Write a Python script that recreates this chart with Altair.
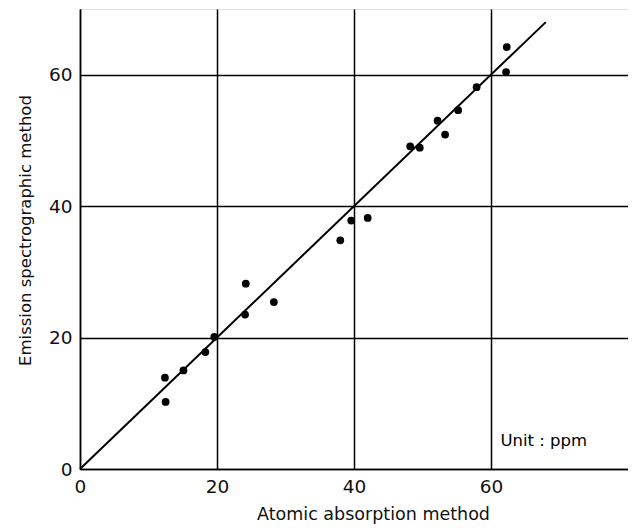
import altair as alt
import pandas as pd

# Data
aa_method = [62.3, 62.2, 57.9, 55.2, 52.2, 53.3, 48.2, 49.6, 42.0, 39.6, 38.0,
             24.2, 28.3, 24.1, 19.6, 18.3, 15.1, 12.4, 12.5]
es_method = [64.2, 60.4, 58.1, 54.6, 53.0, 50.9, 49.1, 48.9, 38.2, 37.8, 34.8,
             28.2, 25.4, 23.5, 20.1, 17.8, 15.0, 13.9, 10.2]
line_x = [0, 68]
line_y = [0, 68]
tick_values = [0, 20, 40, 60]

pts = pd.DataFrame({"x": aa_method, "y": es_method})
ln = pd.DataFrame({"x": line_x, "y": line_y})
note = pd.DataFrame({"x": [67.7], "y": [4.2], "t": ["Unit : ppm"]})

FONT = "DejaVu Sans"

xscale = alt.Scale(domain=[0, 80], nice=False, zero=True)
yscale = alt.Scale(domain=[0, 70], nice=False, zero=True)

xaxis = alt.Axis(
    title="Atomic absorption method", values=tick_values, grid=True,
    gridColor="black", gridWidth=1.5, gridOpacity=1, ticks=False,
    domainColor="black", domainWidth=1.5,
    labelFont=FONT, labelFontSize=18.5, labelColor="#111", labelPadding=8,
    labelFlush=False,
    titleFont=FONT, titleFontSize=17.5, titleFontWeight="normal", titleColor="#111",
    titleX=293, titleY=45, titleBaseline="middle", titleAnchor="middle", titleAlign="center",
)
yaxis = alt.Axis(
    title="Emission spectrographic method", values=tick_values, grid=True,
    gridColor="black", gridWidth=1.5, gridOpacity=1, ticks=False,
    domainColor="black", domainWidth=1.5,
    labelFont=FONT, labelFontSize=18.5, labelColor="#111", labelPadding=8,
    labelFlush=False,
    titleFont=FONT, titleFontSize=16.5, titleFontWeight="normal", titleColor="#111",
    titleX=-55, titleY=221, titleBaseline="middle", titleAnchor="middle", titleAlign="center",
)

base_x = alt.X("x:Q", scale=xscale, axis=xaxis)
base_y = alt.Y("y:Q", scale=yscale, axis=yaxis)

line = alt.Chart(ln).mark_line(color="black", strokeWidth=2).encode(x=base_x, y=base_y)
points = alt.Chart(pts).mark_circle(color="black", opacity=1, size=60).encode(x=base_x, y=base_y)
text = alt.Chart(note).mark_text(
    font=FONT, fontSize=16.5, color="black", align="center", baseline="middle"
).encode(x=alt.X("x:Q", scale=xscale), y=alt.Y("y:Q", scale=yscale), text="t:N")

chart = (line + points + text).properties(
    width=548, height=460,
    autosize=alt.AutoSizeParams(type="none"),
    padding={"left": 72, "top": 1, "right": 0, "bottom": 58},
).configure_view(stroke="black", strokeWidth=1.5).configure(background="white")

chart.save("out.html", embed_options={"renderer": "svg", "actions": False})
